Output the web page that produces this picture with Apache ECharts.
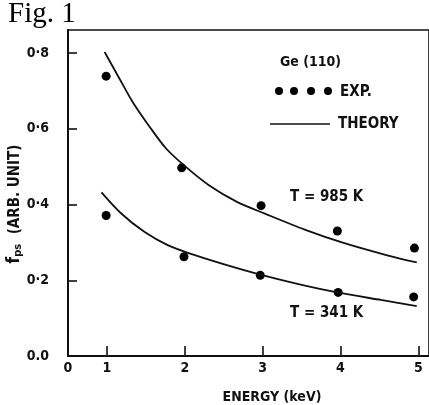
<!DOCTYPE html>
<html>
<head>
<meta charset="utf-8">
<script src="https://cdn.jsdelivr.net/npm/echarts@6/dist/echarts.min.js"></script>
<style>html,body{margin:0;padding:0;background:#fff}#c{width:429px;height:405px}</style>
</head>
<body>
<div id="c"></div>
<script>
// Experimental points
const energyExp985 = [0.99, 1.96, 2.98, 3.96, 4.95];
const fpsExp985 = [0.739, 0.497, 0.397, 0.330, 0.285];
const energyExp341 = [0.99, 1.99, 2.97, 3.97, 4.94];
const fpsExp341 = [0.371, 0.262, 0.213, 0.168, 0.156];
// Theory curves
const energyTh985 = [0.97, 1.16, 1.33, 1.55, 1.76, 2.01, 2.31, 2.67, 3.03, 3.54, 4.05, 4.6, 4.98];
const fpsTh985 = [0.803, 0.733, 0.671, 0.605, 0.548, 0.500, 0.451, 0.407, 0.376, 0.334, 0.298, 0.266, 0.247];
const energyTh341 = [0.93, 1.18, 1.48, 1.78, 2.12, 2.54, 2.97, 3.46, 3.96, 4.52, 4.98];
const fpsTh341 = [0.432, 0.377, 0.328, 0.293, 0.267, 0.240, 0.215, 0.190, 0.168, 0.148, 0.132];
// Tick labels
const xTickValues = [0.5, 1, 2, 3, 4, 5];
const xTickLabels = ['0', '1', '2', '3', '4', '5'];
const yTickValues = [0, 0.2, 0.4, 0.6, 0.8];
const yTickLabels = ['0.0', '0·2', '0·4', '0·6', '0·8'];

const pair = (xs, ys) => xs.map((x, i) => [x, ys[i]]);
const FONT = '"DejaVu Sans Condensed", "DejaVu Sans", sans-serif';

const chart = echarts.init(document.getElementById('c'), null, {renderer: 'canvas'});
chart.setOption({
  animation: false,
  backgroundColor: '#fff',
  title: {
    text: 'Fig. 1', left: 3, top: -5,
    textStyle: {fontFamily: '"Liberation Serif", "DejaVu Serif", serif', fontWeight: 'normal', fontSize: 29, color: '#000'}
  },
  grid: {left: 68, top: 30, right: -3, bottom: 49, show: true, borderColor: '#111', borderWidth: 1.6, backgroundColor: 'transparent'},
  xAxis: {
    type: 'value', min: 0.5, max: 5.137,
    axisLine: {show: true, lineStyle: {color: '#111', width: 2}},
    splitLine: {show: false},
    axisTick: {show: true, inside: true, length: 10, customValues: [1, 2, 3, 4, 5], lineStyle: {color: '#111', width: 1.6}},
    axisLabel: {
      customValues: xTickValues, margin: 5,
      formatter: v => { const i = xTickValues.findIndex(t => Math.abs(t - v) < 1e-6); return i >= 0 ? xTickLabels[i] : ''; },
      fontFamily: FONT, fontSize: 14, fontWeight: 'bold', color: '#111'
    }
  },
  yAxis: {
    type: 'value', min: 0, max: 0.861,
    axisLine: {show: true, lineStyle: {color: '#111', width: 2}},
    splitLine: {show: false},
    axisTick: {show: true, inside: true, length: 9, customValues: [0.2, 0.4, 0.6, 0.8], lineStyle: {color: '#111', width: 1.6}},
    axisLabel: {
      customValues: yTickValues, margin: 19,
      formatter: v => { const i = yTickValues.findIndex(t => Math.abs(t - v) < 1e-6); return i >= 0 ? yTickLabels[i] : ''; },
      fontFamily: FONT, fontSize: 14, fontWeight: 'bold', color: '#111'
    }
  },
  series: [
    {type: 'line', name: 'THEORY 985K', data: pair(energyTh985, fpsTh985), smooth: 0.3, showSymbol: false, lineStyle: {color: '#111', width: 1.8}},
    {type: 'line', name: 'THEORY 341K', data: pair(energyTh341, fpsTh341), smooth: 0.3, showSymbol: false, lineStyle: {color: '#111', width: 1.8}},
    {type: 'scatter', name: 'EXP 985K', data: pair(energyExp985, fpsExp985), symbol: 'circle', symbolSize: 9, itemStyle: {color: '#000', opacity: 1}},
    {type: 'scatter', name: 'EXP 341K', data: pair(energyExp341, fpsExp341), symbol: 'circle', symbolSize: 9, itemStyle: {color: '#000', opacity: 1}}
  ],
  graphic: [
    {type: 'text', x: 15, y: 204, rotation: Math.PI / 2,
     style: {text: '{f|f}{s|ps}  (ARB. UNIT)', font: 'bold 15px ' + FONT, fill: '#111', align: 'center', verticalAlign: 'middle',
       rich: {f: {fontSize: 17, fontWeight: 'bold', fontFamily: FONT, fill: '#111'}, s: {fontSize: 11, fontWeight: 'bold', fontFamily: FONT, padding: [7, 0, 0, 0], fill: '#111'}}}},
    {type: 'text', x: 272, y: 397, style: {text: 'ENERGY (keV)', font: 'bold 14px ' + FONT, fill: '#111', align: 'center', verticalAlign: 'middle'}},
    {type: 'text', x: 280, y: 62, style: {text: 'Ge (110)', font: 'bold 14px ' + FONT, fill: '#111', align: 'left', verticalAlign: 'middle'}},
    {type: 'circle', shape: {cx: 279, cy: 91, r: 4}, style: {fill: '#000'}},
    {type: 'circle', shape: {cx: 294, cy: 91, r: 4}, style: {fill: '#000'}},
    {type: 'circle', shape: {cx: 311, cy: 91, r: 4}, style: {fill: '#000'}},
    {type: 'circle', shape: {cx: 328, cy: 91, r: 4}, style: {fill: '#000'}},
    {type: 'text', x: 340, y: 92, style: {text: 'EXP.', font: 'bold 15px ' + FONT, fill: '#111', align: 'left', verticalAlign: 'middle'}},
    {type: 'line', shape: {x1: 270, y1: 124, x2: 330, y2: 124}, style: {stroke: '#111', lineWidth: 1.6}},
    {type: 'text', x: 338, y: 124, style: {text: 'THEORY', font: 'bold 15px ' + FONT, fill: '#111', align: 'left', verticalAlign: 'middle'}},
    {type: 'text', x: 290, y: 197, style: {text: 'T = 985 K', font: 'bold 15px ' + FONT, fill: '#111', align: 'left', verticalAlign: 'middle'}},
    {type: 'text', x: 290, y: 313, style: {text: 'T = 341 K', font: 'bold 15px ' + FONT, fill: '#111', align: 'left', verticalAlign: 'middle'}}
  ]
});
</script>
</body>
</html>
